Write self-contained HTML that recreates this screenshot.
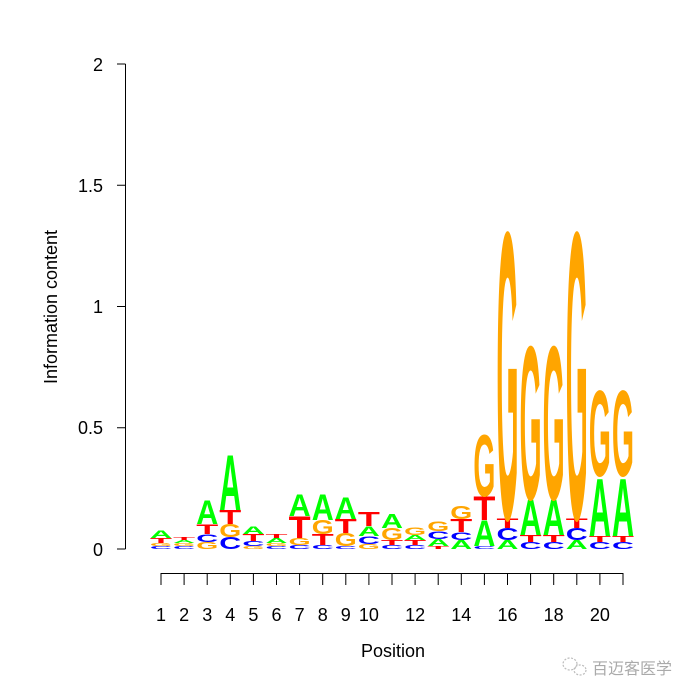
<!DOCTYPE html>
<html><head><meta charset="utf-8"><style>
body{margin:0;background:#fff}
svg{display:block}
.l{font-family:"Liberation Sans",Arial,sans-serif;font-weight:bold;font-size:104px}
.A{fill:#00ff00}.C{fill:#0000ff}.G{fill:#ffa500}.T{fill:#ff0000}
.t{font-family:"Liberation Sans",Arial,sans-serif;font-size:18px;fill:#000}
</style></head><body>
<svg width="700" height="700" viewBox="0 0 700 700" xmlns="http://www.w3.org/2000/svg">
<g stroke="#000" stroke-width="1" fill="none">
<path d="M125.5 64V549M117 64H125.5M117 185.25H125.5M117 306.5H125.5M117 427.75H125.5M117 549H125.5"/>
<path d="M161 573.5H623"/>
<path d="M161 573V585M184.1 573V585M207.2 573V585M230.3 573V585M253.4 573V585M276.5 573V585M299.6 573V585M322.7 573V585M345.8 573V585M368.9 573V585M392 573V585M415.1 573V585M438.2 573V585M461.3 573V585M484.4 573V585M507.5 573V585M530.6 573V585M553.7 573V585M576.8 573V585M599.9 573V585M623 573V585"/>
</g>
<g class="t" text-anchor="end">
<text x="103" y="71">2</text><text x="103" y="192">1.5</text><text x="103" y="313">1</text><text x="103" y="434">0.5</text><text x="103" y="556">0</text>
</g>
<g class="t" text-anchor="middle">
<text x="161" y="621">1</text><text x="184.1" y="621">2</text><text x="207.2" y="621">3</text><text x="230.3" y="621">4</text><text x="253.4" y="621">5</text><text x="276.5" y="621">6</text><text x="299.6" y="621">7</text><text x="322.7" y="621">8</text><text x="345.8" y="621">9</text><text x="368.9" y="621">10</text><text x="415.1" y="621">12</text><text x="461.3" y="621">14</text><text x="507.5" y="621">16</text><text x="553.7" y="621">18</text><text x="599.9" y="621">20</text>
<text x="393" y="657">Position</text>
<text transform="translate(57,307) rotate(-90)">Information content</text>
</g>
<g>
<!-- 1 -->
<text class="l C" transform="translate(150,549) scale(.314,.0412)" textLength="70" lengthAdjust="spacingAndGlyphs">C</text>
<text class="l G" transform="translate(150,546) scale(.314,.0412)" textLength="70" lengthAdjust="spacingAndGlyphs">G</text>
<text class="l T" transform="translate(150,543) scale(.314,.0686)" textLength="70" lengthAdjust="spacingAndGlyphs">T</text>
<text class="l A" transform="translate(150,538) scale(.314,.1097)" textLength="70" lengthAdjust="spacingAndGlyphs">A</text>
<!-- 2 -->
<text class="l C" transform="translate(173.1,549) scale(.314,.0412)" textLength="70" lengthAdjust="spacingAndGlyphs">C</text>
<text class="l G" transform="translate(173.1,546) scale(.314,.0412)" textLength="70" lengthAdjust="spacingAndGlyphs">G</text>
<text class="l A" transform="translate(173.1,543) scale(.314,.0412)" textLength="70" lengthAdjust="spacingAndGlyphs">A</text>
<text class="l T" transform="translate(173.1,540) scale(.314,.0412)" textLength="70" lengthAdjust="spacingAndGlyphs">T</text>
<!-- 3 -->
<text class="l G" transform="translate(196.2,549) scale(.314,.0960)" textLength="70" lengthAdjust="spacingAndGlyphs">G</text>
<text class="l C" transform="translate(196.2,542) scale(.314,.1097)" textLength="70" lengthAdjust="spacingAndGlyphs">C</text>
<text class="l T" transform="translate(196.2,534) scale(.314,.1372)" textLength="70" lengthAdjust="spacingAndGlyphs">T</text>
<text class="l A" transform="translate(196.2,524) scale(.314,.3292)" textLength="70" lengthAdjust="spacingAndGlyphs">A</text>
<!-- 4 -->
<text class="l C" transform="translate(219.3,549) scale(.314,.1646)" textLength="70" lengthAdjust="spacingAndGlyphs">C</text>
<text class="l G" transform="translate(219.3,537) scale(.314,.1783)" textLength="70" lengthAdjust="spacingAndGlyphs">G</text>
<text class="l T" transform="translate(219.3,524) scale(.314,.1920)" textLength="70" lengthAdjust="spacingAndGlyphs">T</text>
<text class="l A" transform="translate(219.3,510) scale(.314,.7545)" textLength="70" lengthAdjust="spacingAndGlyphs">A</text>
<!-- 5 -->
<text class="l G" transform="translate(242.4,549) scale(.314,.0412)" textLength="70" lengthAdjust="spacingAndGlyphs">G</text>
<text class="l C" transform="translate(242.4,546) scale(.314,.0686)" textLength="70" lengthAdjust="spacingAndGlyphs">C</text>
<text class="l T" transform="translate(242.4,541) scale(.314,.0960)" textLength="70" lengthAdjust="spacingAndGlyphs">T</text>
<text class="l A" transform="translate(242.4,534) scale(.314,.1097)" textLength="70" lengthAdjust="spacingAndGlyphs">A</text>
<!-- 6 -->
<text class="l C" transform="translate(265.5,549) scale(.314,.0412)" textLength="70" lengthAdjust="spacingAndGlyphs">C</text>
<text class="l G" transform="translate(265.5,546) scale(.314,.0412)" textLength="70" lengthAdjust="spacingAndGlyphs">G</text>
<text class="l A" transform="translate(265.5,543) scale(.314,.0686)" textLength="70" lengthAdjust="spacingAndGlyphs">A</text>
<text class="l T" transform="translate(265.5,538) scale(.314,.0549)" textLength="70" lengthAdjust="spacingAndGlyphs">T</text>
<!-- 7 -->
<text class="l C" transform="translate(288.6,549) scale(.314,.0549)" textLength="70" lengthAdjust="spacingAndGlyphs">C</text>
<text class="l G" transform="translate(288.6,545) scale(.314,.0960)" textLength="70" lengthAdjust="spacingAndGlyphs">G</text>
<text class="l T" transform="translate(288.6,538) scale(.314,.3018)" textLength="70" lengthAdjust="spacingAndGlyphs">T</text>
<text class="l A" transform="translate(288.6,516) scale(.314,.3018)" textLength="70" lengthAdjust="spacingAndGlyphs">A</text>
<!-- 8 -->
<text class="l C" transform="translate(311.7,549) scale(.314,.0549)" textLength="70" lengthAdjust="spacingAndGlyphs">C</text>
<text class="l T" transform="translate(311.7,545) scale(.314,.1509)" textLength="70" lengthAdjust="spacingAndGlyphs">T</text>
<text class="l G" transform="translate(311.7,534) scale(.314,.1920)" textLength="70" lengthAdjust="spacingAndGlyphs">G</text>
<text class="l A" transform="translate(311.7,520) scale(.314,.3567)" textLength="70" lengthAdjust="spacingAndGlyphs">A</text>
<!-- 9 -->
<text class="l C" transform="translate(334.8,549) scale(.314,.0412)" textLength="70" lengthAdjust="spacingAndGlyphs">C</text>
<text class="l G" transform="translate(334.8,546) scale(.314,.1783)" textLength="70" lengthAdjust="spacingAndGlyphs">G</text>
<text class="l T" transform="translate(334.8,533) scale(.314,.1920)" textLength="70" lengthAdjust="spacingAndGlyphs">T</text>
<text class="l A" transform="translate(334.8,519) scale(.314,.3018)" textLength="70" lengthAdjust="spacingAndGlyphs">A</text>
<!-- 10 -->
<text class="l G" transform="translate(357.9,549) scale(.314,.0686)" textLength="70" lengthAdjust="spacingAndGlyphs">G</text>
<text class="l C" transform="translate(357.9,544) scale(.314,.1097)" textLength="70" lengthAdjust="spacingAndGlyphs">C</text>
<text class="l A" transform="translate(357.9,536) scale(.314,.1372)" textLength="70" lengthAdjust="spacingAndGlyphs">A</text>
<text class="l T" transform="translate(357.9,526) scale(.314,.1920)" textLength="70" lengthAdjust="spacingAndGlyphs">T</text>
<!-- 11 -->
<text class="l C" transform="translate(381,549) scale(.314,.0549)" textLength="70" lengthAdjust="spacingAndGlyphs">C</text>
<text class="l T" transform="translate(381,545) scale(.314,.0686)" textLength="70" lengthAdjust="spacingAndGlyphs">T</text>
<text class="l G" transform="translate(381,540) scale(.314,.1646)" textLength="70" lengthAdjust="spacingAndGlyphs">G</text>
<text class="l A" transform="translate(381,528) scale(.314,.1920)" textLength="70" lengthAdjust="spacingAndGlyphs">A</text>
<!-- 12 -->
<text class="l C" transform="translate(404.1,549) scale(.314,.0549)" textLength="70" lengthAdjust="spacingAndGlyphs">C</text>
<text class="l T" transform="translate(404.1,545) scale(.314,.0686)" textLength="70" lengthAdjust="spacingAndGlyphs">T</text>
<text class="l A" transform="translate(404.1,540) scale(.314,.0686)" textLength="70" lengthAdjust="spacingAndGlyphs">A</text>
<text class="l G" transform="translate(404.1,535) scale(.314,.1097)" textLength="70" lengthAdjust="spacingAndGlyphs">G</text>
<!-- 13 -->
<text class="l T" transform="translate(427.2,549) scale(.314,.0412)" textLength="70" lengthAdjust="spacingAndGlyphs">T</text>
<text class="l A" transform="translate(427.2,546) scale(.314,.0960)" textLength="70" lengthAdjust="spacingAndGlyphs">A</text>
<text class="l C" transform="translate(427.2,539) scale(.314,.1097)" textLength="70" lengthAdjust="spacingAndGlyphs">C</text>
<text class="l G" transform="translate(427.2,531) scale(.314,.1372)" textLength="70" lengthAdjust="spacingAndGlyphs">G</text>
<!-- 14 -->
<text class="l A" transform="translate(450.3,549) scale(.314,.1235)" textLength="70" lengthAdjust="spacingAndGlyphs">A</text>
<text class="l C" transform="translate(450.3,540) scale(.314,.1097)" textLength="70" lengthAdjust="spacingAndGlyphs">C</text>
<text class="l T" transform="translate(450.3,532) scale(.314,.1783)" textLength="70" lengthAdjust="spacingAndGlyphs">T</text>
<text class="l G" transform="translate(450.3,519) scale(.314,.1783)" textLength="70" lengthAdjust="spacingAndGlyphs">G</text>
<!-- 15 -->
<text class="l C" transform="translate(473.4,549) scale(.314,.0412)" textLength="70" lengthAdjust="spacingAndGlyphs">C</text>
<text class="l A" transform="translate(473.4,546) scale(.314,.3567)" textLength="70" lengthAdjust="spacingAndGlyphs">A</text>
<text class="l T" transform="translate(473.4,520) scale(.314,.3292)" textLength="70" lengthAdjust="spacingAndGlyphs">T</text>
<text class="l G" transform="translate(473.4,496) scale(.314,.8505)" textLength="70" lengthAdjust="spacingAndGlyphs">G</text>
<!-- 16 -->
<text class="l A" transform="translate(496.5,549) scale(.314,.1235)" textLength="70" lengthAdjust="spacingAndGlyphs">A</text>
<text class="l C" transform="translate(496.5,540) scale(.314,.1646)" textLength="70" lengthAdjust="spacingAndGlyphs">C</text>
<text class="l T" transform="translate(496.5,528) scale(.314,.1372)" textLength="70" lengthAdjust="spacingAndGlyphs">T</text>
<text class="l G" transform="translate(496.5,518) scale(.314,3.951)" textLength="70" lengthAdjust="spacingAndGlyphs">G</text>
<!-- 17 -->
<text class="l C" transform="translate(519.6,549) scale(.314,.0960)" textLength="70" lengthAdjust="spacingAndGlyphs">C</text>
<text class="l T" transform="translate(519.6,542) scale(.314,.0960)" textLength="70" lengthAdjust="spacingAndGlyphs">T</text>
<text class="l A" transform="translate(519.6,535) scale(.314,.4938)" textLength="70" lengthAdjust="spacingAndGlyphs">A</text>
<text class="l G" transform="translate(519.6,499) scale(.314,2.1125)" textLength="70" lengthAdjust="spacingAndGlyphs">G</text>
<!-- 18 -->
<text class="l C" transform="translate(542.7,549) scale(.314,.0960)" textLength="70" lengthAdjust="spacingAndGlyphs">C</text>
<text class="l T" transform="translate(542.7,542) scale(.314,.0960)" textLength="70" lengthAdjust="spacingAndGlyphs">T</text>
<text class="l A" transform="translate(542.7,535) scale(.314,.4938)" textLength="70" lengthAdjust="spacingAndGlyphs">A</text>
<text class="l G" transform="translate(542.7,499) scale(.314,2.1125)" textLength="70" lengthAdjust="spacingAndGlyphs">G</text>
<!-- 19 -->
<text class="l A" transform="translate(565.8,549) scale(.314,.1235)" textLength="70" lengthAdjust="spacingAndGlyphs">A</text>
<text class="l C" transform="translate(565.8,540) scale(.314,.1646)" textLength="70" lengthAdjust="spacingAndGlyphs">C</text>
<text class="l T" transform="translate(565.8,528) scale(.314,.1372)" textLength="70" lengthAdjust="spacingAndGlyphs">T</text>
<text class="l G" transform="translate(565.8,518) scale(.314,3.951)" textLength="70" lengthAdjust="spacingAndGlyphs">G</text>
<!-- 20 -->
<text class="l C" transform="translate(588.9,549) scale(.314,.0960)" textLength="70" lengthAdjust="spacingAndGlyphs">C</text>
<text class="l T" transform="translate(588.9,542) scale(.314,.0823)" textLength="70" lengthAdjust="spacingAndGlyphs">T</text>
<text class="l A" transform="translate(588.9,536) scale(.314,.7956)" textLength="70" lengthAdjust="spacingAndGlyphs">A</text>
<text class="l G" transform="translate(588.9,476) scale(.314,1.18)" textLength="70" lengthAdjust="spacingAndGlyphs">G</text>
<!-- 21 -->
<text class="l C" transform="translate(612,549) scale(.314,.0960)" textLength="70" lengthAdjust="spacingAndGlyphs">C</text>
<text class="l T" transform="translate(612,542) scale(.314,.0823)" textLength="70" lengthAdjust="spacingAndGlyphs">T</text>
<text class="l A" transform="translate(612,536) scale(.314,.7956)" textLength="70" lengthAdjust="spacingAndGlyphs">A</text>
<text class="l G" transform="translate(612,476) scale(.314,1.18)" textLength="70" lengthAdjust="spacingAndGlyphs">G</text>
</g>
<!-- watermark -->
<g fill="none" stroke="#bbb" stroke-width="1.2" stroke-dasharray="2 1.5">
<ellipse cx="570" cy="664" rx="7" ry="6"/><ellipse cx="580" cy="670" rx="6" ry="5"/>
</g>
<text x="592" y="674" style="font-family:'Liberation Sans','Noto Sans CJK SC',sans-serif;font-size:16px;fill:#aaa">百迈客医学</text>
</svg>
</body></html>
